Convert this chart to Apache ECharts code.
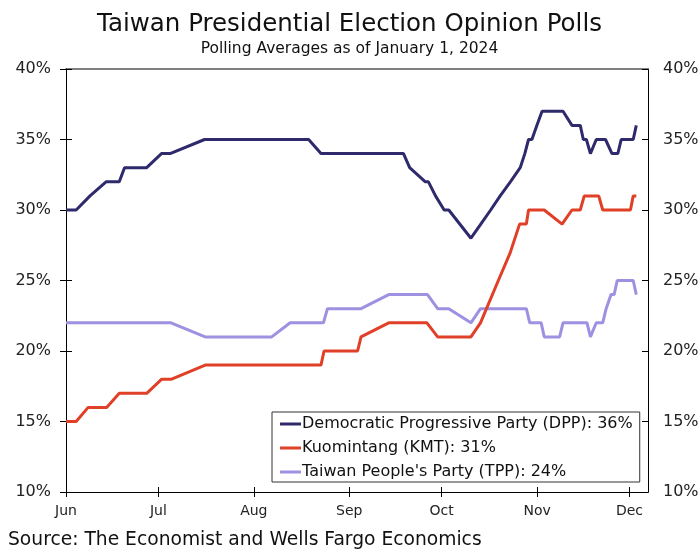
<!DOCTYPE html>
<html>
<head>
<meta charset="utf-8">
<script src="https://cdn.jsdelivr.net/npm/echarts@6/dist/echarts.min.js"></script>
<style>html,body{margin:0;padding:0;background:#fff}#c{width:699px;height:554px}</style>
</head>
<body>
<div id="c"></div>
<script>
// x values: days since June 1, 2023
const monthTickDays = [0, 30, 61, 92, 122, 153, 183];
const monthLabels = ['Jun', 'Jul', 'Aug', 'Sep', 'Oct', 'Nov', 'Dec'];
const yTicks = [10, 15, 20, 25, 30, 35, 40];

const seriesNames = [
  'Democratic Progressive Party (DPP): 36%',
  'Kuomintang (KMT): 31%',
  "Taiwan People's Party (TPP): 24%"
];

const dppDays = [0, 3.3, 7.8, 13, 17.3, 19, 26.2, 31, 33.8, 45, 78.8, 82.8, 109.6, 111.6, 116.7, 117.7, 120, 122.8, 124.3, 131.5, 134.7, 137.9, 141, 144.3, 147.5, 149, 150.2, 151.3, 152.9, 154.6, 161.4, 164.3, 167, 168, 169, 170.3, 172.2, 175.2, 177.3, 179.2, 180.3, 184.2, 185.2];
const dppValues = [30, 30, 31, 32, 32, 33, 33, 34, 34, 35, 35, 34, 34, 33, 32, 32, 31, 30, 30, 28, 29, 30, 31, 32, 33, 34, 35, 35, 36, 37, 37, 36, 36, 35, 35, 34, 35, 35, 34, 34, 35, 35, 36];

const kmtDays = [0, 3.3, 7.2, 13.2, 17.3, 26.2, 31.1, 34.3, 45.2, 82.8, 83.8, 94.7, 95.8, 104.8, 117.2, 120.7, 131.5, 134.6, 140.4, 144.3, 147.3, 149.5, 150.2, 155.3, 161.1, 164.3, 167, 168.3, 173, 174.3, 183.3, 184.2, 185.2];
const kmtValues = [15, 15, 16, 16, 17, 17, 18, 18, 19, 19, 20, 20, 21, 22, 22, 21, 21, 22, 25, 27, 29, 29, 30, 30, 29, 30, 30, 31, 31, 30, 30, 31, 31];

const tppDays = [0, 34.1, 45.2, 66.8, 72.8, 83.6, 84.9, 95.8, 104.8, 117.4, 120.7, 124.3, 131.5, 134.6, 149.5, 150.6, 154.3, 155.3, 160.3, 161.4, 169.2, 170.3, 172.2, 174.3, 175.4, 177, 178, 179, 184.2, 185.2];
const tppValues = [22, 22, 21, 21, 22, 22, 23, 23, 24, 24, 23, 23, 22, 23, 23, 22, 22, 21, 21, 22, 22, 21, 22, 22, 23, 24, 24, 25, 25, 24];

const colors = ['#2e2a6c', '#df4027', '#9d91e2'];
const FONT = 'DejaVu Sans';

function pairs(d, v) { return d.map((x, i) => [x, v[i]]); }

const chart = echarts.init(document.getElementById('c'), null, { renderer: 'canvas' });

function yAx(pos, inside, showLabel) {
  return {
    type: 'value', position: pos, min: 10, max: 40, interval: 5,
    axisLine: { show: true, lineStyle: { color: '#000', width: 1 } },
    axisTick: { show: true, inside: inside, length: 6, lineStyle: { color: '#000' } },
    axisLabel: { show: showLabel, formatter: '{value}%', fontFamily: FONT, fontSize: 16, color: '#222', margin: 15 },
    splitLine: { show: false }
  };
}
function xAx(inside, showLabel) {
  return {
    type: 'value', position: 'bottom', min: 0, max: 189,
    axisLine: { show: true, onZero: false, lineStyle: { color: '#000', width: 1 } },
    axisTick: { show: true, inside: inside, length: 5, customValues: monthTickDays, lineStyle: { color: '#000' } },
    axisLabel: {
      show: showLabel, customValues: monthTickDays, fontFamily: FONT, fontSize: 14, color: '#222', margin: 12,
      formatter: function (v) { const i = monthTickDays.indexOf(Math.round(v)); return i >= 0 ? monthLabels[i] : ''; }
    },
    splitLine: { show: false }
  };
}
const topAxis = {
  type: 'value', position: 'top', min: 0, max: 189,
  axisLine: { show: true, onZero: false, lineStyle: { color: '#555', width: 1.5 } },
  axisTick: { show: false }, axisLabel: { show: false }, splitLine: { show: false }
};

chart.setOption({
  animation: false,
  backgroundColor: '#fff',
  color: colors,
  grid: { left: 66, right: 51, top: 69, bottom: 62, show: false, outerBoundsMode: 'none', containLabel: false },
  xAxis: [xAx(false, true), xAx(true, false), topAxis],
  yAxis: [yAx('left', false, true), yAx('left', true, false), yAx('right', false, true), yAx('right', true, false)],
  legend: {
    orient: 'vertical', left: 272, top: 412,
    data: seriesNames,
    icon: 'rect', itemWidth: 21, itemHeight: 3, itemGap: 6,
    padding: [3, 7, 1, 8],
    borderColor: '#333', borderWidth: 1, backgroundColor: '#fff',
    textStyle: { fontFamily: FONT, fontSize: 16, color: '#111', lineHeight: 18, padding: [0, 0, 0, -4] }
  },
  series: [
    { name: seriesNames[0], type: 'line', data: pairs(dppDays, dppValues), showSymbol: false, lineStyle: { width: 3, color: colors[0] }, z: 5 },
    { name: seriesNames[1], type: 'line', data: pairs(kmtDays, kmtValues), showSymbol: false, lineStyle: { width: 3, color: colors[1] }, z: 4 },
    { name: seriesNames[2], type: 'line', data: pairs(tppDays, tppValues), showSymbol: false, lineStyle: { width: 3, color: colors[2] }, z: 3 }
  ],
  graphic: [
    { type: 'text', left: 'center', top: 12, style: { text: 'Taiwan Presidential Election Opinion Polls', fontFamily: FONT, fontSize: 24.5, fill: '#111' } },
    { type: 'text', left: 'center', top: 41, style: { text: 'Polling Averages as of January 1, 2024', fontFamily: FONT, fontSize: 15.5, fill: '#111' } },
    { type: 'text', left: 8, top: 531, style: { text: 'Source: The Economist and Wells Fargo Economics', fontFamily: FONT, fontSize: 18.7, fill: '#111' } }
  ]
});
</script>
</body>
</html>
